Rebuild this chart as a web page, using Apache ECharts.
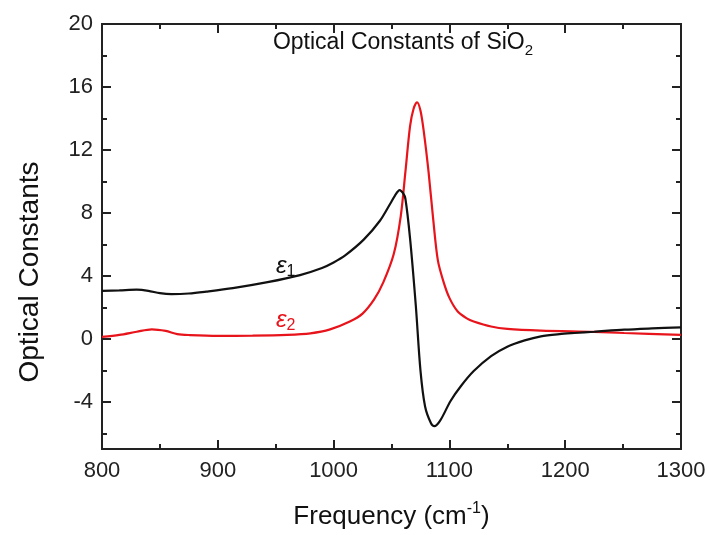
<!DOCTYPE html>
<html>
<head>
<meta charset="utf-8">
<script src="https://cdn.jsdelivr.net/npm/echarts@6/dist/echarts.min.js"></script>
<style>
html,body{margin:0;padding:0;background:#fff;}
#chart{width:710px;height:535px;}
</style>
</head>
<body>
<div id="chart"></div>
<script>
// ---- data ----
var eps1Freq = [800,815,830,840,850,860,875,890,913,943,971,990,1000,1010,1026,1040,1049,1053,1057,1060,1062,1066,1071,1075,1079,1084,1087,1092,1101,1110,1121,1136,1150,1165,1179,1195,1208,1225,1251,1275,1300];
var eps1Vals = [3.05,3.08,3.12,3.05,2.9,2.84,2.88,3.0,3.22,3.6,4.05,4.5,4.85,5.3,6.3,7.5,8.6,9.1,9.45,9.25,8.9,6.4,2.1,-2.0,-4.3,-5.35,-5.55,-5.2,-3.95,-3.0,-2.05,-1.1,-0.5,-0.1,0.16,0.3,0.37,0.45,0.58,0.66,0.73];
var eps2Freq = [800,815,830,843,855,865,876,900,930,960,980,997,1014,1025,1035,1043,1052,1058,1062,1066,1069,1072,1075,1078,1082,1086,1090,1095,1100,1107,1115,1121,1136,1150,1179,1225,1251,1300];
var eps2Vals = [0.12,0.25,0.45,0.6,0.5,0.3,0.24,0.19,0.2,0.25,0.35,0.6,1.1,1.6,2.5,3.6,5.4,7.8,10.6,13.5,14.6,15.03,14.5,13.1,10.6,7.6,5.0,3.6,2.6,1.75,1.3,1.1,0.78,0.63,0.52,0.44,0.37,0.25];
var yMajorTicks = [-4,0,4,8,12,16,20];
var yMinorTicks = [-6,-2,2,6,10,14,18];
var titleText = 'Optical Constants of SiO';
var titleSub = '2';
var xName = 'Frequency (cm';
var xNameSup = '-1';
var yName = 'Optical Constants';

function pairs(xs, ys){ return xs.map(function(x,i){ return [x, ys[i]]; }); }

var FONT = 'Liberation Sans, Arial, sans-serif';
var AX = '#222';
function fmt(v){ return String(v); }

function yAx(pos, ticks, len, labels){
  return {
    type:'value', min:-7, max:20, position:pos,
    axisLine:{show:true, onZero:false, lineStyle:{color:AX, width:2}},
    axisTick:{show:true, inside:true, length:len, customValues:ticks, lineStyle:{color:AX, width:2}},
    axisLabel:{show:labels, customValues:ticks, formatter:fmt, fontSize:22, color:AX, margin:9, fontFamily:FONT},
    splitLine:{show:false}
  };
}
function xAx(pos, labels){
  var a = {
    type:'value', min:800, max:1300, interval:100, position:pos,
    axisLine:{show:true, onZero:false, lineStyle:{color:AX, width:2}},
    axisTick:{show:true, inside:true, length:9, lineStyle:{color:AX, width:2}},
    minorTick:{show:true, splitNumber:2, length:5, lineStyle:{color:AX, width:2}},
    axisLabel:{show:labels, formatter:fmt, fontSize:22, color:AX, margin:11, fontFamily:FONT},
    splitLine:{show:false}
  };
  if(labels){
    a.name = '{a|' + xName + '}{s|' + xNameSup + '}{a|)}';
    a.nameLocation = 'middle';
    a.nameGap = 52;
    a.nameTextStyle = {
      rich:{
        a:{fontSize:26, lineHeight:32, color:'#111', fontFamily:FONT, verticalAlign:'middle'},
        s:{fontSize:16, lineHeight:16, color:'#111', fontFamily:FONT, verticalAlign:'top'}
      }
    };
  }
  return a;
}

var chart = echarts.init(document.getElementById('chart'));
chart.setOption({
  backgroundColor:'#fff',
  animation:false,
  grid:{left:102, right:29, top:24, bottom:84, containLabel:false},
  xAxis:[xAx('bottom', true), xAx('top', false)],
  yAxis:[yAx('left', yMajorTicks, 9, true), yAx('left', yMinorTicks, 5, false), yAx('right', yMajorTicks, 9, false), yAx('right', yMinorTicks, 5, false)],
  series:[
    {type:'line', name:'eps1', xAxisIndex:0, yAxisIndex:0, data:pairs(eps1Freq, eps1Vals), showSymbol:false, smooth:0.3, lineStyle:{color:'#111', width:2.2}, z:3},
    {type:'line', name:'eps2', xAxisIndex:0, yAxisIndex:0, data:pairs(eps2Freq, eps2Vals), showSymbol:false, smooth:0.3, lineStyle:{color:'#e8141c', width:2.2}, z:2}
  ],
  graphic:[
    {type:'text', x:403, y:43, style:{text:'{a|' + titleText + '}{b|' + titleSub + '}', align:'center', verticalAlign:'middle',
      rich:{a:{fontSize:23, lineHeight:30, fill:'#111', fontFamily:FONT, verticalAlign:'middle'}, b:{fontSize:15, lineHeight:15, fill:'#111', fontFamily:FONT, verticalAlign:'bottom'}}}},
    {type:'text', x:276, y:266, style:{text:'{e|ε}{s|1}', align:'left', verticalAlign:'middle',
      rich:{e:{fontSize:24, lineHeight:28, fill:'#111', fontFamily:FONT, fontStyle:'italic', verticalAlign:'middle'}, s:{fontSize:16, lineHeight:16, fill:'#111', fontFamily:FONT, verticalAlign:'bottom'}}}},
    {type:'text', x:276, y:320, style:{text:'{e|ε}{s|2}', align:'left', verticalAlign:'middle',
      rich:{e:{fontSize:24, lineHeight:28, fill:'#e8141c', fontFamily:FONT, fontStyle:'italic', verticalAlign:'middle'}, s:{fontSize:16, lineHeight:16, fill:'#e8141c', fontFamily:FONT, verticalAlign:'bottom'}}}},
    {type:'text', x:30, y:272, rotation:Math.PI/2, style:{text:yName, align:'center', verticalAlign:'middle', fontSize:28, fill:'#111', fontFamily:FONT}}
  ]
});
</script>
</body>
</html>
